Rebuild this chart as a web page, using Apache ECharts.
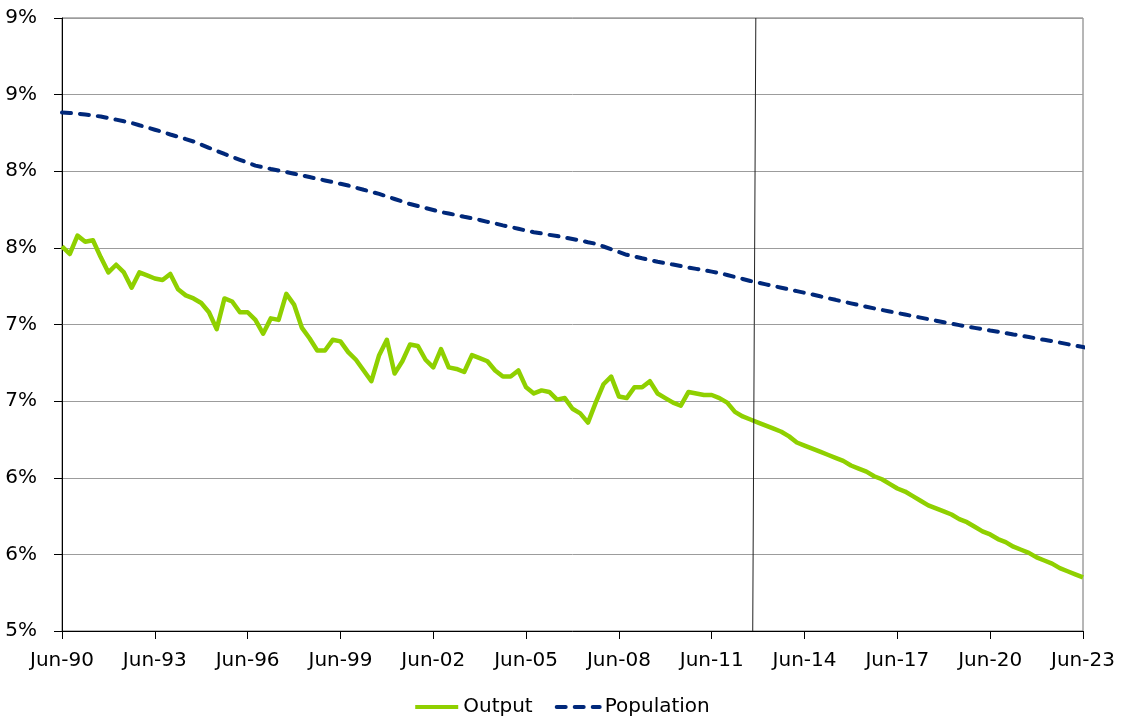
<!DOCTYPE html>
<html>
<head>
<meta charset="utf-8">
<script src="https://cdn.jsdelivr.net/npm/echarts@6/dist/echarts.min.js"></script>
<style>
html,body{margin:0;padding:0;background:#fff;}
#chart{width:1123px;height:720px;}
</style>
</head>
<body>
<div id="chart"></div>
<script>
// Quarterly series, Jun-90 (index 0) to Jun-23 (index 132)
const tickLabels = ["Jun-90","Jun-93","Jun-96","Jun-99","Jun-02","Jun-05","Jun-08","Jun-11","Jun-14","Jun-17","Jun-20","Jun-23"];

const output = [
  7.51, 7.46, 7.58, 7.54, 7.55, 7.44, 7.34, 7.39, 7.34, 7.24,
  7.34, 7.32, 7.30, 7.29, 7.33, 7.23, 7.19, 7.17, 7.14, 7.08,
  6.97, 7.17, 7.15, 7.08, 7.08, 7.03, 6.94, 7.04, 7.03, 7.20,
  7.13, 6.98, 6.91, 6.83, 6.83, 6.90, 6.89, 6.82, 6.77, 6.70,
  6.63, 6.80, 6.90, 6.68, 6.76, 6.87, 6.86, 6.77, 6.72, 6.84,
  6.72, 6.71, 6.69, 6.80, 6.78, 6.76, 6.70, 6.66, 6.66, 6.70,
  6.59, 6.55, 6.57, 6.56, 6.51, 6.52, 6.45, 6.42, 6.36, 6.49,
  6.61, 6.66, 6.53, 6.52, 6.59, 6.59, 6.63, 6.55, 6.52, 6.49,
  6.47, 6.56, 6.55, 6.54, 6.54, 6.52, 6.49, 6.43, 6.40, 6.38,
  6.36, 6.34, 6.32, 6.30, 6.27, 6.23, 6.21, 6.19, 6.17, 6.15,
  6.13, 6.11, 6.08, 6.06, 6.04, 6.01, 5.99, 5.96, 5.93, 5.91,
  5.88, 5.85, 5.82, 5.80, 5.78, 5.76, 5.73, 5.71, 5.68, 5.65,
  5.63, 5.60, 5.58, 5.55, 5.53, 5.51, 5.48, 5.46, 5.44, 5.41,
  5.39, 5.37, 5.35
];

const population = [
  8.383, 8.380, 8.376, 8.370, 8.364, 8.357, 8.347, 8.337, 8.326, 8.315,
  8.300, 8.286, 8.271, 8.256, 8.240, 8.225, 8.210, 8.194, 8.174, 8.153,
  8.133, 8.113, 8.094, 8.075, 8.056, 8.037, 8.026, 8.015, 8.005, 7.995,
  7.984, 7.973, 7.962, 7.951, 7.940, 7.929, 7.918, 7.907, 7.893, 7.879,
  7.866, 7.852, 7.836, 7.819, 7.802, 7.786, 7.773, 7.760, 7.747, 7.734,
  7.724, 7.714, 7.703, 7.693, 7.682, 7.670, 7.659, 7.647, 7.636, 7.625,
  7.613, 7.602, 7.594, 7.585, 7.577, 7.568, 7.558, 7.548, 7.537, 7.527,
  7.509, 7.491, 7.473, 7.455, 7.444, 7.432, 7.421, 7.409, 7.400, 7.391,
  7.381, 7.372, 7.363, 7.354, 7.345, 7.336, 7.323, 7.310, 7.297, 7.284,
  7.273, 7.262, 7.251, 7.240, 7.229, 7.218, 7.207, 7.196, 7.184, 7.172,
  7.161, 7.149, 7.138, 7.127, 7.116, 7.105, 7.095, 7.085, 7.075, 7.065,
  7.055, 7.045, 7.035, 7.025, 7.015, 7.005, 6.996, 6.986, 6.978, 6.970,
  6.961, 6.953, 6.944, 6.935, 6.927, 6.918, 6.909, 6.900, 6.891, 6.882,
  6.872, 6.862, 6.853, 6.843
];

// forecast divider (quarter index at top and bottom of the plot)
const dividerTop = [89.7, 9];
const dividerBottom = [89.3, 5];

const FONT = 'DejaVu Sans';
const chart = echarts.init(document.getElementById('chart'), null, {renderer: 'canvas'});
chart.setOption({
  animation: false,
  backgroundColor: '#ffffff',
  textStyle: {fontFamily: FONT},
  grid: {left: 62, right: 40, top: 18, bottom: 89, show: true, borderColor: '#6e6e6e', borderWidth: 1, containLabel: false},
  legend: {
    top: 692, left: 'center',
    itemWidth: 43, itemHeight: 16, itemGap: 22,
    itemStyle: {opacity: 0},
    lineStyle: {width: 4},
    textStyle: {fontFamily: FONT, fontSize: 20, color: '#000'},
    data: ['Output', 'Population']
  },
  xAxis: {
    type: 'value', min: 0, max: 132, interval: 12,
    axisLine: {show: true, lineStyle: {color: '#000', width: 1}},
    axisTick: {show: true, length: 8, lineStyle: {color: '#000'}},
    splitLine: {show: false},
    axisLabel: {
      margin: 20, fontSize: 20, fontFamily: FONT, color: '#000',
      formatter: v => tickLabels[Math.round(v / 12)]
    }
  },
  yAxis: {
    type: 'value', min: 5, max: 9, interval: 0.5,
    axisLine: {show: true, lineStyle: {color: '#000', width: 1}},
    axisTick: {show: true, length: 8, lineStyle: {color: '#000'}},
    splitLine: {show: true, lineStyle: {color: '#9c9c9c', width: 1}},
    axisLabel: {
      margin: 25, fontSize: 20, fontFamily: FONT, color: '#000',
      formatter: v => Math.round(v) + '%'
    }
  },
  series: [
    {
      name: 'Output', type: 'line', symbol: 'none',
      data: output.map((v, i) => [i, v]),
      lineStyle: {color: '#8fd000', width: 4.5, join: 'round'},
      itemStyle: {color: '#8fd000'},
      z: 3,
      markLine: {
        silent: true, symbol: 'none', animation: false,
        label: {show: false},
        lineStyle: {color: '#222', width: 1, type: 'solid'},
        data: [[{coord: dividerTop}, {coord: dividerBottom}]]
      }
    },
    {
      name: 'Population', type: 'line', symbol: 'none',
      data: population.map((v, i) => [i, v]),
      lineStyle: {color: '#00287a', width: 4, type: [9, 9], cap: 'round'},
      itemStyle: {color: '#00287a'},
      z: 3
    }
  ]
});
</script>
</body>
</html>
